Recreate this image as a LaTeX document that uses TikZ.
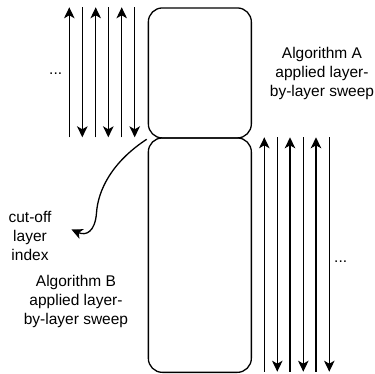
\documentclass[tikz,border=0pt]{standalone}
\usepackage{fontspec}
\setmainfont{Liberation Sans}
\usetikzlibrary{arrows.meta}
\begin{document}
\begin{tikzpicture}[x=1pt,y=-1pt,
  line width=1.3pt,
  layerbox/.style={draw, rounded corners=14pt, minimum width=103pt, anchor=north west, inner sep=0pt},
  sweep/.style={-{Stealth[length=11pt,width=10.5pt,inset=3pt]}},
  lbl/.style={align=center, font=\fontsize{15.5}{19}\selectfont, inner sep=0pt},
]
\useasboundingbox (0,0) rectangle (375,374);

% the two stacked layer blocks
\node[layerbox, minimum height=130pt] (A) at (147.7,7.3) {};
\node[layerbox, minimum height=234.4pt] (B) at (147.7,137.3) {};

% sweeps over block A: alternating up / down passes
\foreach \i/\x in {1/69.3,2/95.7,3/121.7}{
  \coordinate (au\i s) at (\x,137.3);
  \coordinate (au\i e) at (\x,7.3);
  \draw[sweep] (au\i s) -- (au\i e);
}
\foreach \i/\x in {1/82.3,2/108.3,3/134.7}{
  \coordinate (ad\i s) at (\x,7.3);
  \coordinate (ad\i e) at (\x,137.3);
  \draw[sweep] (ad\i s) -- (ad\i e);
}

% sweeps over block B
\foreach \i/\x in {1/264.3,2/290,3/316}{
  \coordinate (bu\i s) at (\x,371.7);
  \coordinate (bu\i e) at (\x,137.3);
  \draw[sweep] (bu\i s) -- (bu\i e);
}
\foreach \i/\x in {1/277.3,2/303.3,3/329.3}{
  \coordinate (bd\i s) at (\x,137.3);
  \coordinate (bd\i e) at (\x,371.7);
  \draw[sweep] (bd\i s) -- (bd\i e);
}

% ellipses
\node[lbl] (dotsA) at (55.7,74) {...};
\node[lbl] (dotsB) at (340.7,262) {...};

% labels
\node[lbl] (labA) at (322,73) {Algorithm A\\applied layer-\\by-layer sweep};
\node[lbl] (labB) at (76,301) {Algorithm B\\applied layer-\\by-layer sweep};
\node[lbl] (cutlbl) at (30,236) {cut-off\\layer\\index};

% cut-off marker
\coordinate (cut) at (146.7,139.3);
\coordinate (cutend) at (71.5,229.5);
\draw[sweep] (cut) .. controls (112,162) and (98,190) .. (96.5,213)
  .. controls (95,232) and (86,236) .. (cutend);
\end{tikzpicture}
\end{document}
